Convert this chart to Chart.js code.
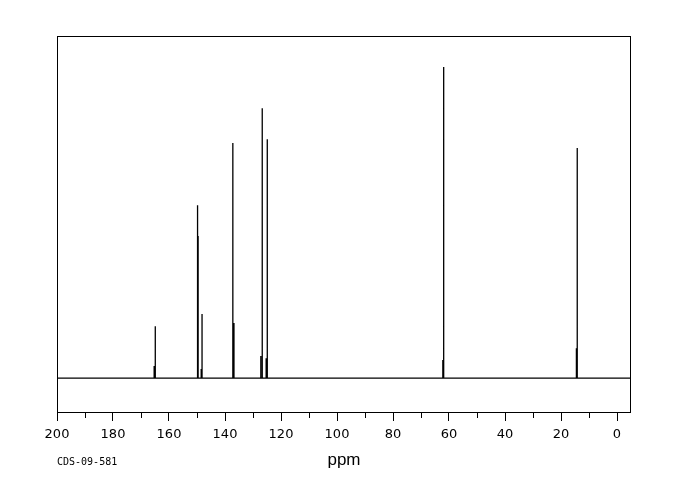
<!DOCTYPE html>
<html>
<head>
<meta charset="utf-8">
<script src="https://cdn.jsdelivr.net/npm/chart.js@4"></script>
<style>
  body { margin: 0; background: #fff; }
  canvas { display: block; }
</style>
</head>
<body>
<canvas id="nmr" width="680" height="500"></canvas>
<script>
// 13C peaks: main line and its neighbouring (shoulder) line, ppm and relative height
const peakPpm      = [164.9, 149.8, 148.2, 137.2, 126.7, 124.9, 61.9, 14.2];
const peakHeight   = [16.7, 55.6, 20.6, 75.6, 86.8, 76.8, 100, 74.0];
const shoulderPpm  = [165.3, 149.6, 148.5, 136.8, 127.2, 125.3, 62.2, 14.5];
const shoulderHeight = [3.9, 45.7, 2.9, 17.7, 7.1, 6.4, 5.8, 9.6];

const ppmMin = -5, ppmMax = 200;
const tickStep = 10, labelStep = 20;
const sampleId = 'CDS-09-581';

function buildTrace() {
    let sticks = []
    for (let i = 0; i < peakPpm.length; i++) {
        sticks.push({x: peakPpm[i], h: peakHeight[i]})
        sticks.push({x: shoulderPpm[i], h: shoulderHeight[i]})
    }
    sticks.sort((a, b) => b.x - a.x)
    let pts = [{x: ppmMax, y: 0}]
    for (const s of sticks) {
        pts.push({x: s.x, y: 0})
        pts.push({x: s.x, y: s.h})
        pts.push({x: s.x, y: 0})
    }
    pts.push({x: ppmMin, y: 0})
    return pts
}

// frame round the plot, minor tick marks, sample id
const framePlugin = {
    id: 'frame',
    afterDraw(chart) {
        const {ctx, chartArea: a} = chart
        const sx = chart.scales.x
        ctx.save()
        ctx.strokeStyle = '#000'
        ctx.lineWidth = 1
        ctx.strokeRect(Math.round(a.left) + 0.5, Math.round(a.top) + 0.5,
            Math.round(a.right - a.left) - 1, Math.round(a.bottom - a.top))
        ctx.beginPath()
        for (const t of sx.ticks) {
            if (t.value % tickStep === 0 && t.value % labelStep !== 0) {
                const px = Math.round(sx.getPixelForValue(t.value)) + 0.5
                ctx.moveTo(px, Math.round(a.bottom))
                ctx.lineTo(px, Math.round(a.bottom) + 6)
            }
        }
        ctx.stroke()
        ctx.fillStyle = '#000'
        ctx.font = '10px "DejaVu Sans Mono", monospace'
        ctx.textBaseline = 'middle'
        ctx.textAlign = 'left'
        ctx.fillText(sampleId, 57, 462)
        ctx.restore()
    }
}

const data = {
    datasets: [{
        data: buildTrace(),
        showLine: true,
        borderColor: '#000',
        borderWidth: 1.3,
        pointRadius: 0,
        tension: 0
    }]
};

const config = {
    type: 'scatter',
    data: data,
    plugins: [framePlugin],
    options: {
        responsive: false,
        animation: false,
        layout: {padding: {left: 57, right: 49, top: 36, bottom: 0}},
        plugins: {legend: {display: false}, tooltip: {enabled: false}},
        scales: {
            x: {
                type: 'linear',
                reverse: true,
                min: ppmMin,
                max: ppmMax,
                border: {display: false},
                grid: {
                    drawOnChartArea: false,
                    tickLength: 9,
                    tickColor: ctx => (ctx.tick && ctx.tick.value % labelStep === 0) ? '#000' : 'rgba(0,0,0,0)'
                },
                ticks: {
                    stepSize: tickStep,
                    includeBounds: false,
                    autoSkip: false,
                    maxRotation: 0,
                    padding: 6,
                    color: '#000',
                    font: {family: '"DejaVu Sans", sans-serif', size: 13},
                    callback: v => v % labelStep === 0 ? String(v) : ''
                },
                title: {
                    display: true,
                    text: 'ppm',
                    color: '#000',
                    font: {family: '"Liberation Sans", sans-serif', size: 17},
                    padding: {top: 0, bottom: 29}
                },
                afterFit: s => { s.height = 88 }
            },
            y: {
                display: false,
                min: -10.9,
                max: 110
            }
        }
    }
};

new Chart(document.getElementById('nmr').getContext('2d'), config)
</script>
</body>
</html>
